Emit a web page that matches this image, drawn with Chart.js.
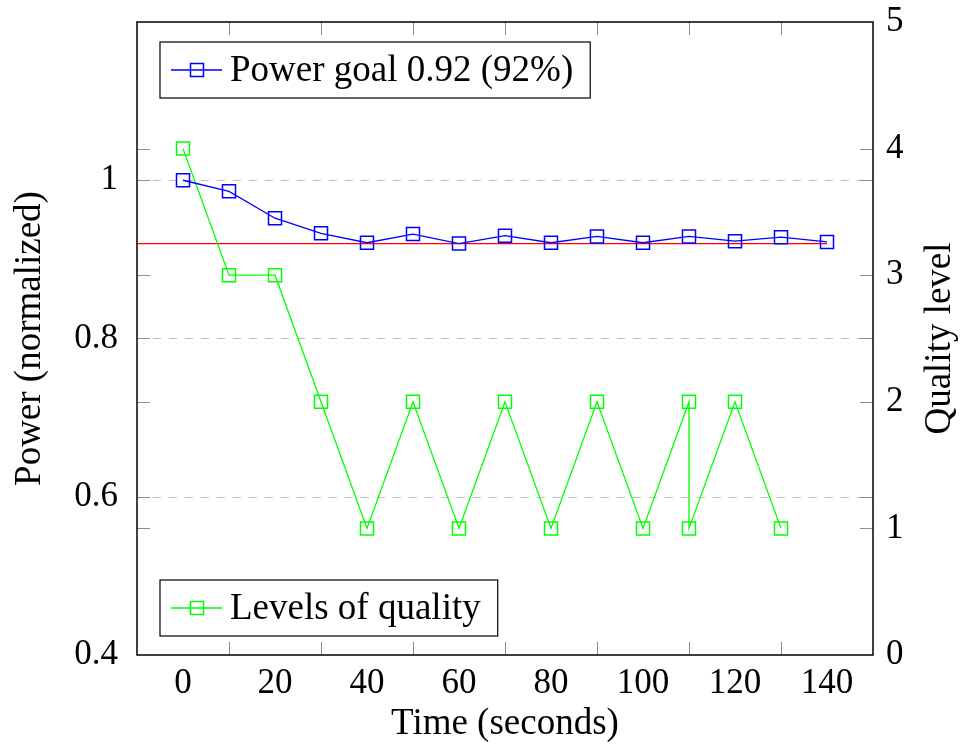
<!DOCTYPE html>
<html lang="en">
<head>
    <meta charset="UTF-8">
    <title>Power and quality over time</title>
    <style>
        body { margin: 0; background: #fff; }
        #wrap { width: 962px; height: 751px; }
    </style>
    <script src="https://cdn.jsdelivr.net/npm/chart.js"></script>
</head>
<body>
    <div id="wrap"><canvas id="powerChart" width="962" height="751"></canvas></div>

    <script>
        // values
        const timeSteps = [0, 10, 20, 30, 40, 50, 60, 70, 80, 90, 100, 110, 120, 130, 140];
        const powerValues = [1.0, 0.986, 0.952, 0.933, 0.921, 0.932, 0.920, 0.930, 0.921, 0.929, 0.921, 0.929, 0.923, 0.928, 0.922];
        const qualityTimes = [0, 10, 20, 30, 40, 50, 60, 70, 80, 90, 100, 110, 110, 120, 130];
        const qualityLevels = [4, 3, 3, 2, 1, 2, 1, 2, 1, 2, 1, 2, 1, 2, 1];
        const powerGoal = 0.92;

        const xTicks = [0, 20, 40, 60, 80, 100, 120, 140];
        const xTickMarks = [10, 30, 50, 70, 90, 110, 130];
        const powerTicks = [0.4, 0.6, 0.8, 1];
        const qualityTicks = [0, 1, 2, 3, 4, 5];

        const FONT = '"Liberation Serif", "Times New Roman", serif';
        Chart.defaults.font.family = FONT;
        Chart.defaults.font.size = 35;
        Chart.defaults.color = '#000';

        // dashed grid, inner tick marks, frame, legends and the right title
        const decorations = {
            id: 'decorations',
            beforeDatasetsDraw(chart) {
                const { ctx, chartArea: a, scales } = chart;
                ctx.save();
                ctx.strokeStyle = '#c0c0c0';
                ctx.lineWidth = 1;
                ctx.setLineDash([8, 8]);
                powerTicks.slice(1).forEach(v => {
                    const y = Math.round(scales.y.getPixelForValue(v)) + 0.5;
                    ctx.beginPath();
                    ctx.moveTo(a.left, y);
                    ctx.lineTo(a.right, y);
                    ctx.stroke();
                });
                ctx.setLineDash([]);

                ctx.strokeStyle = '#8c8c8c';
                const len = 13;
                const ys = powerTicks.slice(1).map(v => scales.y.getPixelForValue(v))
                    .concat(qualityTicks.slice(1, -1).map(v => scales.y2.getPixelForValue(v)));
                ys.forEach(py => {
                    const y = Math.round(py) + 0.5;
                    ctx.beginPath();
                    ctx.moveTo(a.left, y); ctx.lineTo(a.left + len, y);
                    ctx.moveTo(a.right, y); ctx.lineTo(a.right - len, y);
                    ctx.stroke();
                });
                xTickMarks.forEach(v => {
                    const x = Math.round(scales.x.getPixelForValue(v)) + 0.5;
                    ctx.beginPath();
                    ctx.moveTo(x, a.bottom); ctx.lineTo(x, a.bottom - len);
                    ctx.moveTo(x, a.top); ctx.lineTo(x, a.top + len);
                    ctx.stroke();
                });
                ctx.restore();
            },
            afterDatasetsDraw(chart) {
                const { ctx, chartArea: a } = chart;
                ctx.save();
                ctx.strokeStyle = '#000';
                ctx.lineWidth = 1.5;
                ctx.strokeRect(a.left, a.top, a.right - a.left, a.bottom - a.top);

                drawLegendBox(ctx, a, chart.data.datasets[0], a.top + 20);
                drawLegendBox(ctx, a, chart.data.datasets[1], a.bottom - 75);

                ctx.fillStyle = '#000';
                ctx.font = '37px ' + FONT;
                ctx.textAlign = 'center';
                ctx.textBaseline = 'middle';
                ctx.translate(940, (a.top + a.bottom) / 2);
                ctx.rotate(-Math.PI / 2);
                ctx.fillText('Quality level', 0, 0);
                ctx.restore();
            }
        };

        function drawLegendBox(ctx, a, ds, y) {
            ctx.save();
            ctx.font = '37px ' + FONT;
            const textW = ctx.measureText(ds.label).width;
            const x = a.left + 23;
            const w = 70 + textW + 17;
            const h = 56;
            const cy = y + h / 2;
            ctx.fillStyle = '#fff';
            ctx.fillRect(x, y, w, h);
            ctx.strokeStyle = '#000';
            ctx.lineWidth = 1.2;
            ctx.strokeRect(x, y, w, h);

            ctx.strokeStyle = ds.borderColor;
            ctx.lineWidth = ds.borderWidth;
            ctx.beginPath();
            ctx.moveTo(x + 11, cy);
            ctx.lineTo(x + 62, cy);
            ctx.stroke();
            ctx.lineWidth = ds.pointBorderWidth;
            ctx.strokeRect(x + 37 - 6.5, cy - 6.5, 13, 13);

            ctx.fillStyle = '#000';
            ctx.textBaseline = 'middle';
            ctx.fillText(ds.label, x + 70, cy + 1);
            ctx.restore();
        }

        function renderChart() {
            const ctx = document.getElementById('powerChart').getContext('2d');
            const xMin = -10, xMax = 150;

            new Chart(ctx, {
                type: 'line',
                data: {
                    datasets: [
                        {
                            label: 'Power goal 0.92 (92%)',
                            data: timeSteps.map((t, i) => ({ x: t, y: powerValues[i] })),
                            yAxisID: 'y',
                            borderColor: '#0000ff',
                            borderWidth: 1.3,
                            pointStyle: 'rect',
                            pointRadius: 9.2,
                            pointBorderWidth: 1.5,
                            pointBackgroundColor: 'rgba(0,0,0,0)',
                            pointBorderColor: '#0000ff',
                            order: 1
                        },
                        {
                            label: 'Levels of quality',
                            data: qualityTimes.map((t, i) => ({ x: t, y: qualityLevels[i] })),
                            yAxisID: 'y2',
                            borderColor: '#00ff00',
                            borderWidth: 1.3,
                            pointStyle: 'rect',
                            pointRadius: 9.2,
                            pointBorderWidth: 1.5,
                            pointBackgroundColor: 'rgba(0,0,0,0)',
                            pointBorderColor: '#00ff00',
                            order: 2
                        },
                        {
                            label: 'goal',
                            data: [{ x: xMin, y: powerGoal }, { x: timeSteps[timeSteps.length - 1], y: powerGoal }],
                            yAxisID: 'y',
                            borderColor: '#ff0000',
                            borderWidth: 1.3,
                            pointRadius: 0,
                            order: 3
                        }
                    ]
                },
                options: {
                    responsive: false,
                    animation: false,
                    layout: { padding: { top: 22, left: 0, right: 0, bottom: 0 } },
                    plugins: {
                        legend: { display: false },
                        tooltip: { enabled: false }
                    },
                    scales: {
                        x: {
                            type: 'linear',
                            min: xMin,
                            max: xMax,
                            grid: { display: false },
                            border: { display: false },
                            afterBuildTicks: s => { s.ticks = xTicks.map(v => ({ value: v })); },
                            afterFit: s => { s.height = 96; s.paddingLeft = 0; s.paddingRight = 0; },
                            ticks: { padding: 0, maxRotation: 0, font: { size: 35 } },
                            title: { display: true, text: 'Time (seconds)', font: { size: 37 }, padding: { top: 0, bottom: 5 } }
                        },
                        y: {
                            position: 'left',
                            min: 0.4,
                            max: 1.2,
                            grid: { display: false },
                            border: { display: false },
                            afterBuildTicks: s => { s.ticks = powerTicks.map(v => ({ value: v })); },
                            afterFit: s => { s.width = 137; s.paddingTop = 0; s.paddingBottom = 0; },
                            ticks: { padding: 11, font: { size: 35 }, callback: v => String(v) },
                            title: { display: true, text: 'Power (normalized)', font: { size: 37 }, padding: { top: 8, bottom: 0 } }
                        },
                        y2: {
                            position: 'right',
                            min: 0,
                            max: 5,
                            grid: { display: false },
                            border: { display: false },
                            afterBuildTicks: s => { s.ticks = qualityTicks.map(v => ({ value: v })); },
                            afterFit: s => { s.width = 89; s.paddingTop = 0; s.paddingBottom = 0; },
                            ticks: { padding: 5, font: { size: 35 } }
                        }
                    }
                },
                plugins: [decorations]
            });
        }

        document.addEventListener('DOMContentLoaded', renderChart);
    </script>
</body>
</html>
